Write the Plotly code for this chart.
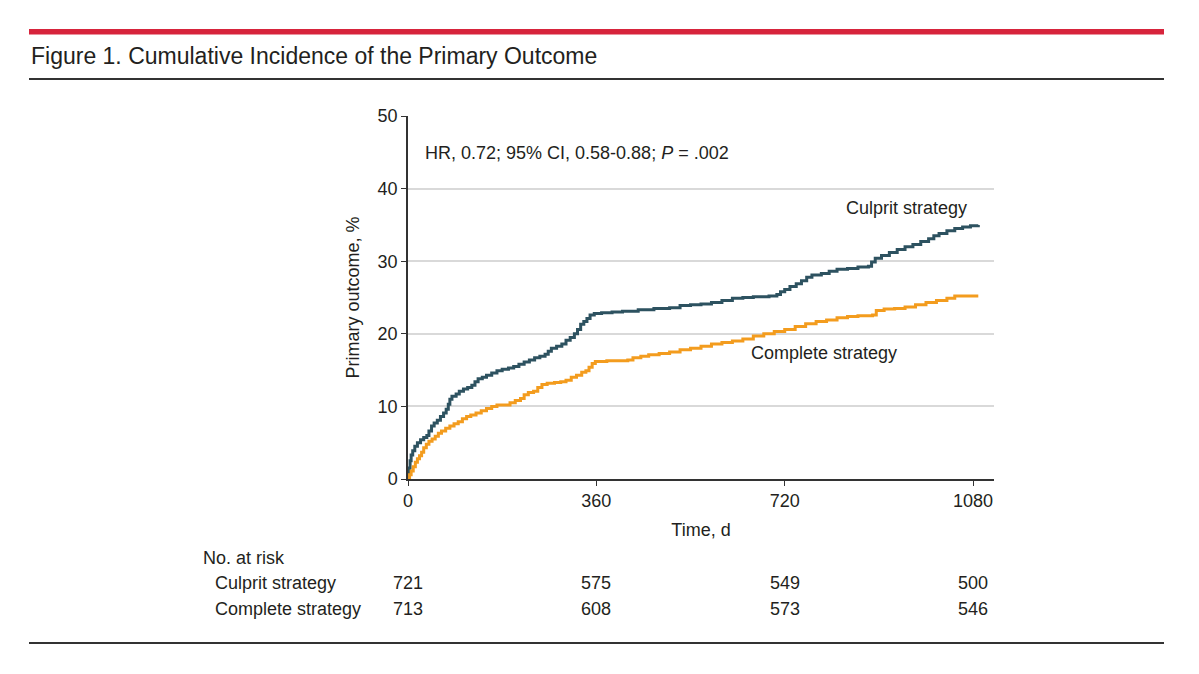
import plotly.graph_objects as go

# ---------------- data ----------------
culprit_days = [0, 2, 4, 6, 9, 13, 18, 24, 30, 36, 40, 45, 50, 56, 62, 68, 73, 77, 80, 84,
                92, 98, 106, 114, 122, 128, 134, 142, 150, 160, 170, 180, 192, 202, 212, 222,
                232, 242, 252, 262, 268, 274, 284, 294, 302, 310, 318, 324, 330, 336, 342, 348,
                356, 370, 390, 410, 440, 470, 500, 520, 540, 560, 580, 600, 620, 640, 660, 690,
                705, 712, 720, 730, 742, 752, 762, 772, 790, 805, 820, 840, 860, 880, 886, 893,
                905, 920, 935, 950, 965, 980, 995, 1005, 1015, 1030, 1045, 1060, 1075, 1090]
culprit_pct = [0, 1.5, 2.5, 3.3, 3.9, 4.5, 5.0, 5.4, 5.7, 6.0, 6.6, 7.3, 7.7, 8.1, 8.6, 9.1, 9.6, 10.3, 11.0, 11.4,
               11.7, 12.1, 12.4, 12.6, 12.9, 13.4, 13.8, 14.0, 14.3, 14.6, 14.9, 15.1, 15.3, 15.5, 15.8, 16.1,
               16.4, 16.7, 16.9, 17.2, 17.6, 18.0, 18.3, 18.6, 19.1, 19.5, 20.0, 20.6, 21.3, 21.7, 22.1, 22.6,
               22.8, 22.9, 23.0, 23.1, 23.3, 23.5, 23.6, 23.9, 24.0, 24.1, 24.3, 24.6, 24.9, 25.0, 25.1, 25.2,
               25.4, 25.8, 26.1, 26.5, 26.9, 27.3, 27.8, 28.1, 28.3, 28.6, 28.9, 29.0, 29.2, 29.3, 29.9, 30.4,
               30.8, 31.2, 31.6, 32.0, 32.3, 32.7, 33.1, 33.5, 33.8, 34.2, 34.5, 34.7, 34.9, 35.0]

complete_days = [0, 3, 6, 10, 14, 18, 22, 26, 30, 35, 40, 46, 52, 58, 64, 72, 80, 88, 96, 104,
                 112, 120, 130, 140, 150, 160, 170, 185, 195, 205, 215, 222, 230, 240, 248, 256,
                 266, 280, 292, 302, 312, 322, 332, 340, 346, 352, 358, 380, 400, 420, 430, 445,
                 460, 480, 500, 520, 540, 560, 580, 600, 620, 640, 660, 680, 700, 720, 740, 760,
                 780, 800, 820, 840, 860, 888, 895, 910, 930, 950, 970, 990, 1010, 1030, 1045, 1090]
complete_pct = [0, 0.6, 1.1, 1.7, 2.3, 2.8, 3.2, 3.7, 4.3, 4.8, 5.2, 5.5, 5.9, 6.3, 6.6, 7.0, 7.3, 7.6, 7.9, 8.3,
                8.6, 8.8, 9.1, 9.4, 9.7, 10.0, 10.2, 10.2, 10.5, 10.8, 11.1, 11.6, 11.9, 12.1, 12.6, 13.0,
                13.2, 13.3, 13.4, 13.6, 14.0, 14.3, 14.7, 14.9, 15.4, 15.9, 16.2, 16.3, 16.3, 16.4, 16.7, 16.9,
                17.1, 17.3, 17.5, 17.8, 18.0, 18.3, 18.6, 18.8, 19.0, 19.3, 19.7, 20.0, 20.3, 20.6, 21.0, 21.4,
                21.7, 21.9, 22.2, 22.4, 22.5, 22.6, 23.2, 23.4, 23.5, 23.7, 24.0, 24.3, 24.6, 24.9, 25.2, 25.2]

x_ticks = [0, 360, 720, 1080]
y_ticks = [0, 10, 20, 30, 40, 50]
risk_culprit = [721, 575, 549, 500]
risk_complete = [713, 608, 573, 546]

title_text = "Figure 1. Cumulative Incidence of the Primary Outcome"
hr_text = "HR, 0.72; 95% CI, 0.58-0.88; <i>P</i> = .002"

# ---------------- layout helpers ----------------
OFF = 8                      # page body margin
W, H = 1199 - OFF, 674 - OFF
L, R, T, B = 408, 994, 116, 479   # plot area in reference-screen pixels


def px(xp):
    return (xp - L) / (R - L)


def py(yp):
    return (B - yp) / (B - T)


FONT = "Liberation Sans, Arial, sans-serif"
TXT = "#231f20"
TEAL = "#2d5260"
ORANGE = "#f39c1e"
FS = 18

fig = go.Figure()
fig.add_trace(go.Scatter(x=culprit_days, y=culprit_pct, mode="lines", line_shape="hv",
                         line=dict(color=TEAL, width=3), name="Culprit strategy",
                         showlegend=False))
fig.add_trace(go.Scatter(x=complete_days, y=complete_pct, mode="lines", line_shape="hv",
                         line=dict(color=ORANGE, width=3), name="Complete strategy",
                         showlegend=False))

ann = []
ann.append(dict(text=title_text, x=px(29), y=py(56), xref="paper", yref="paper",
                xanchor="left", yanchor="middle", showarrow=False,
                font=dict(size=23, color=TXT, family=FONT)))
ann.append(dict(text=hr_text, x=px(423), y=py(153), xref="paper", yref="paper",
                xanchor="left", yanchor="middle", showarrow=False,
                font=dict(size=FS, color=TXT, family=FONT)))
ann.append(dict(text="Primary outcome, %", x=px(352), y=0.5, xref="paper", yref="paper",
                xanchor="center", yanchor="middle", textangle=-90, showarrow=False,
                font=dict(size=FS, color=TXT, family=FONT)))
ann.append(dict(text="Culprit strategy", x=1073, y=37.3, xref="x", yref="y",
                xanchor="right", yanchor="middle", showarrow=False,
                font=dict(size=FS, color=TXT, family=FONT)))
ann.append(dict(text="Complete strategy", x=796, y=17.3, xref="x", yref="y",
                xanchor="center", yanchor="middle", showarrow=False,
                font=dict(size=FS, color=TXT, family=FONT)))
# number at risk table
ann.append(dict(text="No. at risk", x=px(201), y=py(558), xref="paper", yref="paper",
                xanchor="left", yanchor="middle", showarrow=False,
                font=dict(size=FS, color=TXT, family=FONT)))
ann.append(dict(text="Culprit strategy", x=px(213), y=py(583), xref="paper", yref="paper",
                xanchor="left", yanchor="middle", showarrow=False,
                font=dict(size=FS, color=TXT, family=FONT)))
ann.append(dict(text="Complete strategy", x=px(213), y=py(609), xref="paper", yref="paper",
                xanchor="left", yanchor="middle", showarrow=False,
                font=dict(size=FS, color=TXT, family=FONT)))
for d, v in zip(x_ticks, risk_culprit):
    ann.append(dict(text=str(v), x=d, y=py(583), xref="x", yref="paper",
                    xanchor="center", yanchor="middle", showarrow=False,
                    font=dict(size=FS, color=TXT, family=FONT)))
for d, v in zip(x_ticks, risk_complete):
    ann.append(dict(text=str(v), x=d, y=py(609), xref="x", yref="paper",
                    xanchor="center", yanchor="middle", showarrow=False,
                    font=dict(size=FS, color=TXT, family=FONT)))

shapes = [
    dict(type="rect", xref="paper", yref="paper", x0=px(29), x1=px(1164),
         y0=py(34.5), y1=py(29), fillcolor="#d7243c", line=dict(width=0)),
    dict(type="line", xref="paper", yref="paper", x0=px(29), x1=px(1164),
         y0=py(79), y1=py(79), line=dict(color="#333333", width=2)),
    dict(type="line", xref="paper", yref="paper", x0=px(29), x1=px(1164),
         y0=py(643), y1=py(643), line=dict(color="#333333", width=2)),
]

fig.update_layout(
    width=W, height=H, autosize=False,
    margin=dict(l=L - OFF, r=W - (R - OFF), t=T - OFF, b=H - (B - OFF), pad=0),
    paper_bgcolor="white", plot_bgcolor="white",
    font=dict(family=FONT, color=TXT, size=FS),
    annotations=ann, shapes=shapes, showlegend=False,
    xaxis=dict(range=[0, 1120], tickvals=x_ticks, ticks="outside", ticklen=5,
               tickcolor="#333333", showline=True, linecolor="#333333", linewidth=1.5,
               showgrid=False, zeroline=False, tickfont=dict(size=FS, color=TXT),
               title=dict(text="Time, d", font=dict(size=FS, color=TXT), standoff=13)),
    yaxis=dict(range=[0, 50], tickvals=y_ticks, ticks="outside", ticklen=5,
               tickcolor="#333333", showline=True, linecolor="#333333", linewidth=1.5,
               showgrid=True, gridcolor="#d9d9d9", gridwidth=1.5, zeroline=False,
               tickfont=dict(size=FS, color=TXT)),
)

fig.write_html("out.html")
